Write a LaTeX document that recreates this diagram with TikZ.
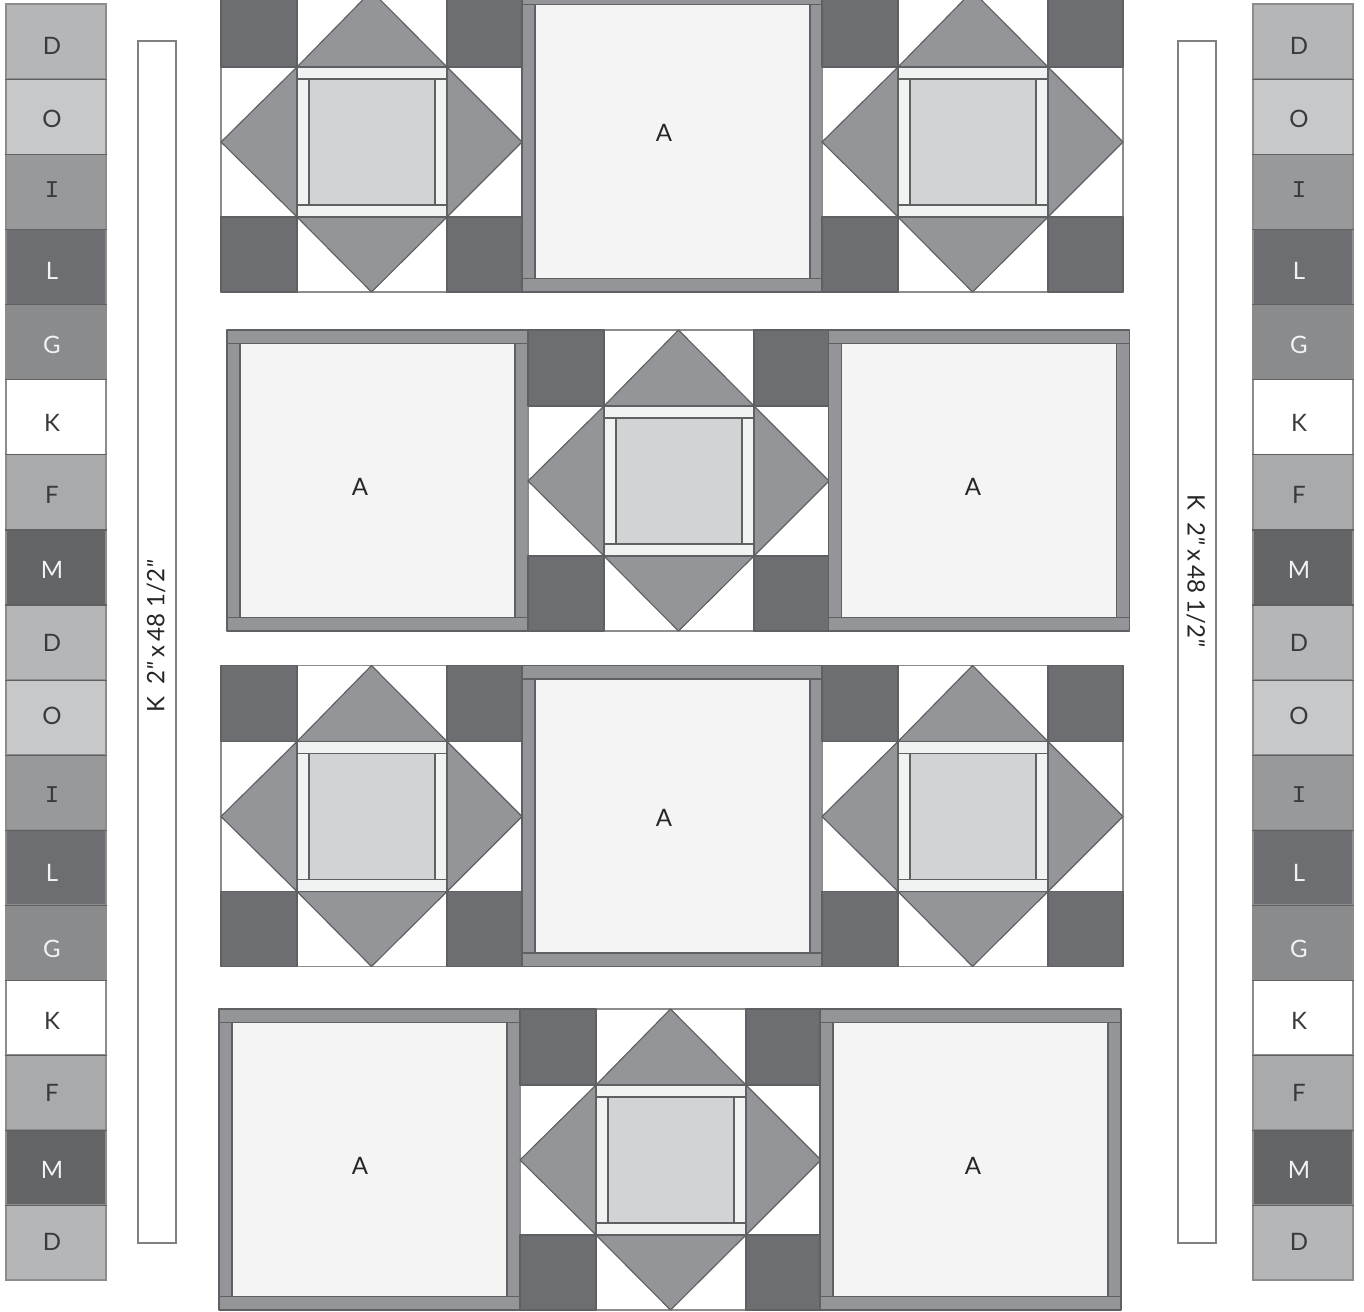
\documentclass[tikz,border=0pt]{standalone}
\usepackage{fontspec}
\setmainfont{Lato}
\newfontfamily\slabfont{Liberation Mono}
\usepackage{xcolor}
\usetikzlibrary{positioning}

\definecolor{seamgrey}{HTML}{5F6062}
\definecolor{cellD}{HTML}{B5B6B8}
\definecolor{cellO}{HTML}{C7C8CA}
\definecolor{cellI}{HTML}{98999B}
\definecolor{cellL}{HTML}{6D6E71}
\definecolor{cellG}{HTML}{8A8B8D}
\definecolor{cellK}{HTML}{FFFFFF}
\definecolor{cellF}{HTML}{A9AAAC}
\definecolor{cellM}{HTML}{636466}
\definecolor{pointgrey}{HTML}{939598}
\definecolor{centregrey}{HTML}{D1D3D4}
\definecolor{sashgrey}{HTML}{F1F2F2}
\definecolor{plaingrey}{HTML}{F4F4F4}
\definecolor{textL}{HTML}{F1F2F2}
\definecolor{textG}{HTML}{F1F2F2}
\definecolor{textM}{HTML}{F1F2F2}
\definecolor{textD}{HTML}{3A3A3C}
\definecolor{textO}{HTML}{3A3A3C}
\definecolor{textI}{HTML}{3A3A3C}
\definecolor{textK}{HTML}{3A3A3C}
\definecolor{textF}{HTML}{3A3A3C}

\tikzset{
  seam/.style={draw=seamgrey, line width=0.85pt, line join=round},
  stripcell/.style={draw=black!45, line width=0.85pt, minimum width=75pt, minimum height=56.3pt, inner sep=0pt},
  striptext/.style={inner sep=0pt, font=\fontsize{18}{18}\selectfont},
  longstrip/.style={draw=black!50, fill=white, line width=0.85pt, minimum width=28.5pt, minimum height=901.5pt, inner sep=0pt},
  longlabel/.style={font=\fontsize{18}{18}\selectfont, text=black!85},
  blocklabel/.style={font=\fontsize{18}{18}\selectfont, text=black!85}
}

% Pieced block, (#1,#2) is its top left corner
\newcommand{\starblock}[2]{
  \begin{scope}[shift={(#1,#2)}]
    \draw[seam, draw=black!45, fill=white] (0,0) rectangle (301,301);
    % corner squares
    \draw[seam, fill=cellL] (0,0) rectangle (76,76);
    \draw[seam, fill=cellL] (226,0) rectangle (301,76);
    \draw[seam, fill=cellL] (0,226) rectangle (76,301);
    \draw[seam, fill=cellL] (226,226) rectangle (301,301);
    % points
    \draw[seam, fill=pointgrey] (76,76) -- (150.5,0) -- (226,76) -- cycle;
    \draw[seam, fill=pointgrey] (76,226) -- (150.5,301) -- (226,226) -- cycle;
    \draw[seam, fill=pointgrey] (76,76) -- (0,151) -- (76,226) -- cycle;
    \draw[seam, fill=pointgrey] (226,76) -- (301,151) -- (226,226) -- cycle;
    % frame and centre
    \draw[seam, fill=sashgrey] (76,76) rectangle (226,226);
    \draw[seam] (76,88) -- (226,88);
    \draw[seam] (76,214) -- (226,214);
    \draw[seam, fill=centregrey] (88,88) rectangle (214,214);
  \end{scope}
}

% Plain block with border, (#1,#2) is its top left corner
\newcommand{\plainblock}[2]{
  \begin{scope}[shift={(#1,#2)}]
    \draw[seam, fill=pointgrey] (0,0) rectangle (301,301);
    \draw[seam] (0,13.5) -- (301,13.5);
    \draw[seam] (0,287.5) -- (301,287.5);
    \draw[seam, fill=plaingrey] (13,13.5) rectangle (288,287.5);
  \end{scope}
}

\begin{document}
\begin{tikzpicture}[x=0.75pt, y=-0.75pt]
  \useasboundingbox (0,0) rectangle (1364,1312);

  % Side strips
  \foreach \lab/\txt/\ly [count=\i] in {D/D/46,O/O/119,I/{\slabfont I}/190,L/L/271,G/G/345,K/K/423,F/F/495,M/M/570,D/D/643,O/O/716,I/{\slabfont I}/795,L/L/873,G/G/949,K/K/1021,F/F/1093,M/M/1170,D/D/1242} {
    \node[stripcell, fill=cell\lab] (left\i) at (56,{4+75.06*(\i-0.5)}) {};
    \node[stripcell, fill=cell\lab] (right\i) at (1303,{4+75.06*(\i-0.5)}) {};
    \node[striptext, text=text\lab] (lefttext\i) at (52,\ly) {\txt};
    \node[striptext, text=text\lab] (righttext\i) at (1299,\ly) {\txt};
  }
  \foreach \i in {1,...,16} {
    \draw[seam] (left\i.south west) -- (left\i.south east);
    \draw[seam] (right\i.south west) -- (right\i.south east);
  }

  % Long strips
  \node[longstrip] (longleft) at (157,642) {};
  \node[longstrip] (longright) at (1197,642) {};
  \node[longlabel, rotate=90] (longlefttext) at (156,636.5) {K\hspace{.5em}2\textit{\textquotedbl}\hspace{.2em}x\hspace{.2em}48\hspace{.25em}1/2\textit{\textquotedbl}};
  \node[longlabel, rotate=-90] (longrighttext) at (1196,570.5) {K\hspace{.5em}2\textit{\textquotedbl}\hspace{.2em}x\hspace{.2em}48\hspace{.25em}1/2\textit{\textquotedbl}};

  % Row 1
  \starblock{221}{-9}
  \plainblock{522}{-9}
  \starblock{822}{-9}
  \node[blocklabel] (rowoneA) at (664,132.5) {A};

  % Row 2
  \plainblock{227}{330}
  \starblock{528}{330}
  \plainblock{828.5}{330}
  \node[blocklabel] (rowtwoA) at (360,486.5) {A};
  \node[blocklabel] (rowtwoB) at (973,486.5) {A};

  % Row 3
  \starblock{221}{665.5}
  \plainblock{522}{665.5}
  \starblock{822}{665.5}
  \node[blocklabel] (rowthreeA) at (664,817.5) {A};

  % Row 4
  \plainblock{219}{1009}
  \starblock{520}{1009}
  \plainblock{820}{1009}
  \node[blocklabel] (rowfourA) at (360,1165.5) {A};
  \node[blocklabel] (rowfourB) at (973,1165.5) {A};
\end{tikzpicture}
\end{document}
